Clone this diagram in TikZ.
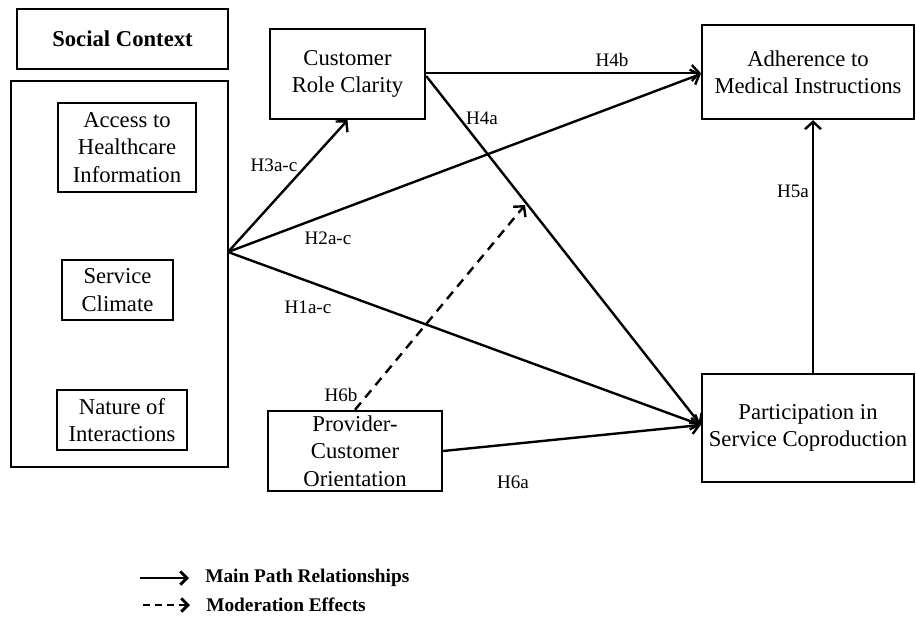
\documentclass[tikz,border=0pt]{standalone}
\usepackage{fontspec}
\setmainfont{Liberation Serif}
\usetikzlibrary{arrows.meta,calc}
\begin{document}
\begin{tikzpicture}[x=0.75pt,y=-0.75pt,
  box/.style={draw,line width=1.8pt,align=center,inner sep=1pt,font=\fontsize{17}{20.5}\selectfont},
  frame/.style={draw,line width=0.8pt,inner sep=0pt},
  lbl/.style={font=\fontsize{14.3}{16}\selectfont,inner sep=0pt},
  leg/.style={font=\bfseries\fontsize{14.5}{16}\selectfont,inner sep=0pt,anchor=west},
  arr/.style={line width=1.8pt,-{Straight Barb[length=5.5pt,width=12pt]}},
  darr/.style={arr,dash pattern=on 7pt off 5pt},
  legarr/.style={line width=2.2pt,-{Straight Barb[length=5pt,width=10pt]}},
  legdarr/.style={legarr,dash pattern=on 5pt off 4pt}]
\useasboundingbox (0,0) rectangle (916,620);
% boxes
\node[box,minimum width=158.25pt,minimum height=45pt,font=\bfseries\fontsize{17}{20.5}\selectfont] (soc) at (122.5,39) {Social Context};
\node[frame,minimum width=162.75pt,minimum height=289.5pt] (frm) at (119.5,274) {};
\node[box,minimum width=103.5pt,minimum height=66.75pt] (acc) at (127,147.5) {Access to\\Healthcare\\Information};
\node[box,minimum width=83.25pt,minimum height=45pt] (svc) at (117.5,290) {Service\\Climate};
\node[box,minimum width=97.5pt,minimum height=45pt] (nat) at (122,420) {Nature of\\Interactions};
\node[box,minimum width=116.25pt,minimum height=67.5pt] (crc) at (347.5,74) {Customer\\Role Clarity};
\node[box,minimum width=159pt,minimum height=70.5pt] (adh) at (808,72) {Adherence to\\Medical Instructions};
\node[box,minimum width=159pt,minimum height=81pt] (par) at (808,428) {Participation in\\Service Coproduction};
\node[box,minimum width=130.5pt,minimum height=60pt] (pco) at (355,451) {Provider-\\Customer\\Orientation};
% coordinates
\coordinate (src) at (228,252);
\coordinate (pin) at ($(par.west)+(0,-3)$);
\coordinate (ain) at ($(adh.west)+(0,2)$);
\coordinate (crcA) at ($(crc.east)+(0,-1)$);
\coordinate (crcB) at ($(crc.east)+(0,2)$);
\coordinate (mod) at (525,205);
% connectors
\draw[arr] (src) -- (crc.south);
\draw[arr] (src) -- (ain);
\draw[arr] (src) -- (pin);
\draw[arr] (crcA) -- (crcA -| adh.west);
\draw[arr] (crcB) -- (pin);
\draw[arr] ($(par.north)+(5,0)$) -- ($(adh.south)+(5,0)$);
\draw[arr] (pco.east) -- (pin);
\draw[darr] (pco.north) -- (mod);
% labels
\node[lbl] (l3) at (274,165) {H3a-c};
\node[lbl] (l2) at (328,238) {H2a-c};
\node[lbl] (l1) at (308,307) {H1a-c};
\node[lbl] (l4b) at (612,60) {H4b};
\node[lbl] (l4a) at (482,118) {H4a};
\node[lbl] (l5) at (793,191) {H5a};
\node[lbl] (l6b) at (341,395) {H6b};
\node[lbl] (l6a) at (513,482) {H6a};
% legend
\node[leg] (lg1) at (205,578) {Main Path Relationships};
\node[leg] (lg2) at (206,605) {Moderation Effects};
\coordinate (lg1s) at (140,578);
\coordinate (lg2s) at (143,605);
\draw[legarr] (lg1s) -- ($(lg1.west)+(-16,0)$);
\draw[legdarr] (lg2s) -- ($(lg2.west)+(-16,0)$);
\end{tikzpicture}
\end{document}
